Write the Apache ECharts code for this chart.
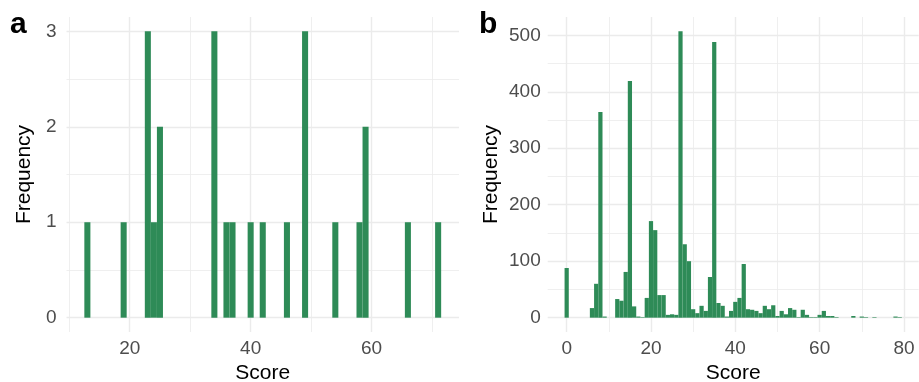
<!DOCTYPE html>
<html>
<head>
<meta charset="utf-8">
<script src="https://cdn.jsdelivr.net/npm/echarts@6/dist/echarts.min.js"></script>
<style>
  html, body { margin: 0; padding: 0; background: #fff; }
  #chart { width: 919px; height: 382px; }
</style>
</head>
<body>
<div id="chart"></div>
<script>
// panel a: histogram bins (width 1, centred on the score) and their counts
const scoresA = [13, 19, 23, 24, 25, 34, 36, 37, 40, 42, 46, 49, 54, 58, 59, 66, 71];
const countsA = [1, 1, 3, 1, 2, 3, 1, 1, 1, 1, 1, 3, 1, 1, 2, 1, 1];

// panel b: non-empty bins only
const scoresB = [0, 6, 7, 8, 9,
  12, 13, 14, 15, 16, 17, 18, 19, 20, 21,
  22, 23, 24, 25, 26, 27, 28, 29, 30, 31,
  32, 33, 34, 35, 36, 37, 38, 39, 40, 41,
  42, 43, 44, 45, 46, 47, 48, 49, 50, 51,
  52, 53, 54, 55, 56, 57, 58, 59, 60, 61,
  62, 63, 64, 68, 70, 71, 73, 78, 79];
const countsB = [88, 17, 60, 364, 2,
  33, 30, 81, 419, 20, 2, 1, 35, 171, 155,
  40, 40, 5, 6, 5, 507, 130, 100, 15, 8,
  21, 12, 72, 488, 26, 21, 2, 12, 28, 35,
  95, 15, 14, 12, 8, 21, 15, 22, 3, 12,
  6, 17, 14, 1, 14, 5, 1, 1, 5, 12,
  3, 3, 1, 3, 2, 1, 1, 2, 1];

const barColor = '#2e8b57';
const gridColor = '#ebebeb';
const font = '"Liberation Sans", Arial, Helvetica, sans-serif';

const chart = echarts.init(document.getElementById('chart'), null, { renderer: 'canvas' });

// one rectangle per bin, from (x - 0.5) to (x + 0.5)
function renderBin(params, api) {
  const x = api.value(0);
  const n = api.value(1);
  const p0 = api.coord([x - 0.5, n]);
  const p1 = api.coord([x + 0.5, 0]);
  return {
    type: 'rect',
    shape: { x: p0[0], y: p0[1], width: p1[0] - p0[0], height: p1[1] - p0[1] },
    style: { fill: barColor }
  };
}

function xAxisCfg(grid, min, max, step, margin) {
  return {
    gridIndex: grid,
    type: 'value',
    min: min,
    max: max,
    minInterval: step,
    maxInterval: step,
    axisLine: { show: false },
    axisTick: { show: false },
    axisLabel: {
      color: '#4d4d4d', fontSize: 19, fontFamily: font, margin: margin,
      formatter: v => (Math.abs(v % step) < 1e-9 ? String(v) : '')
    },
    splitLine: { show: true, showMinLine: false, showMaxLine: false, lineStyle: { color: gridColor, width: 1.4 } },
    minorTick: { show: false, splitNumber: 2 },
    minorSplitLine: { show: true, lineStyle: { color: gridColor, width: 0.8 } },
    name: 'Score',
    nameLocation: 'middle',
    nameGap: 30,
    nameTextStyle: { color: '#000', fontSize: 21, fontFamily: font }
  };
}

function yAxisCfg(grid, min, max, step, margin, gap) {
  return {
    gridIndex: grid,
    type: 'value',
    min: min,
    max: max,
    minInterval: step,
    maxInterval: step,
    axisLine: { show: false },
    axisTick: { show: false },
    axisLabel: {
      color: '#4d4d4d', fontSize: 19, fontFamily: font, margin: margin,
      formatter: v => (Math.abs(v % step) < 1e-9 ? String(v) : '')
    },
    splitLine: { show: true, showMinLine: false, showMaxLine: false, lineStyle: { color: gridColor, width: 1.4 } },
    minorTick: { show: false, splitNumber: 2 },
    minorSplitLine: { show: true, lineStyle: { color: gridColor, width: 0.8 } },
    name: 'Frequency',
    nameLocation: 'middle',
    nameGap: gap,
    nameTextStyle: { color: '#000', fontSize: 21, fontFamily: font }
  };
}

const option = {
  animation: false,
  backgroundColor: '#fff',
  grid: [
    { left: 66.5, right: 460, top: 17, bottom: 50, outerBoundsMode: 'none', containLabel: false },
    { left: 547.7, right: 0.3, top: 17, bottom: 50, outerBoundsMode: 'none', containLabel: false }
  ],
  xAxis: [
    xAxisCfg(0, 9.55, 74.45, 20, 7),
    xAxisCfg(1, -4.5, 83.5, 20, 7)
  ],
  yAxis: [
    yAxisCfg(0, -0.15, 3.15, 1, 10, 32),
    yAxisCfg(1, -25.35, 532.35, 100, 7, 46)
  ],
  graphic: [
    { type: 'text', left: 10, top: 10, style: { text: 'a', font: 'bold 30px ' + font, fill: '#000' } },
    { type: 'text', left: 479, top: 10, style: { text: 'b', font: 'bold 30px ' + font, fill: '#000' } }
  ],
  series: [
    {
      type: 'custom',
      xAxisIndex: 0,
      yAxisIndex: 0,
      renderItem: renderBin,
      encode: { x: 0, y: 1 },
      data: scoresA.map((s, i) => [s, countsA[i]])
    },
    {
      type: 'custom',
      xAxisIndex: 1,
      yAxisIndex: 1,
      renderItem: renderBin,
      encode: { x: 0, y: 1 },
      data: scoresB.map((s, i) => [s, countsB[i]])
    }
  ]
};

chart.setOption(option);
</script>
</body>
</html>
